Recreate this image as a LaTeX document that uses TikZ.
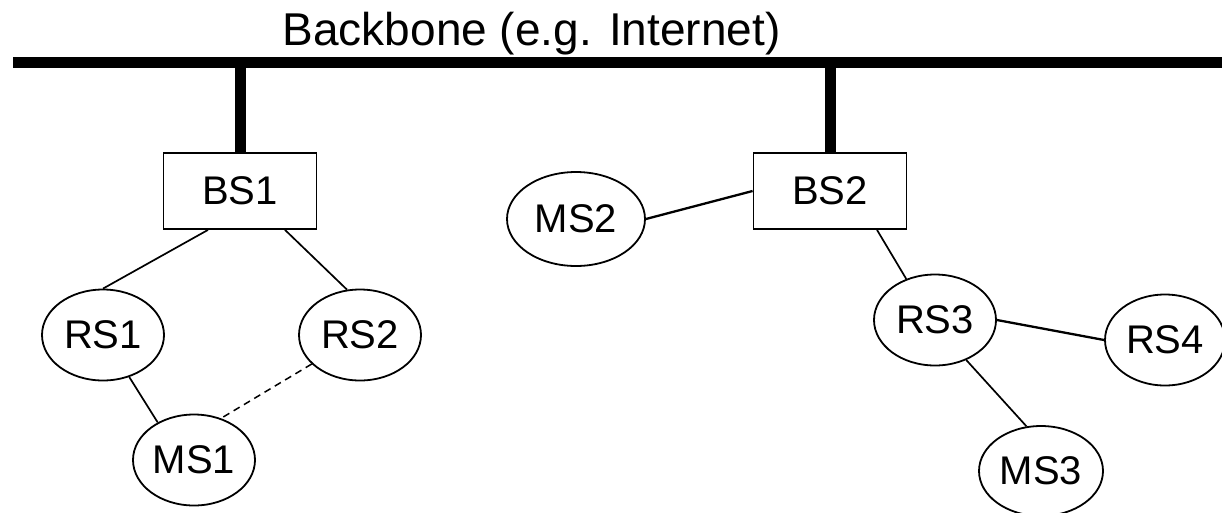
\documentclass[tikz,border=0pt]{standalone}
\usepackage{fontspec}
\setmainfont{Liberation Sans}
\usetikzlibrary{shapes.geometric,calc}

\begin{document}
\begin{tikzpicture}[x=1pt,y=-1pt,
  label font/.style={font=\fontsize{40}{44}\selectfont},
  station/.style={draw, line width=1.8pt, ellipse, inner sep=0pt,
                  minimum width=122pt, minimum height=91pt, label font},
  basebox/.style={draw, line width=1.8pt, rectangle, inner sep=0pt,
                  minimum width=153pt, minimum height=76pt, label font},
  link/.style={line width=1.7pt},
  wlink/.style={line width=2.3pt},
  maybelink/.style={line width=1.5pt, dash pattern=on 7pt off 5pt},
  trunk/.style={line width=11pt}]

  \useasboundingbox (0,0) rectangle (1222,512);
  \clip (0,0) rectangle (1222,512);

  % backbone bus and its caption
  \coordinate (busL) at (13,62.5);
  \coordinate (busR) at (1230,62.5);
  \draw[trunk] (busL) -- (busR);
  \node[anchor=base, inner sep=0pt, font=\fontsize{46}{50}\selectfont]
    (title) at (531.5,45) {Backbone (e.g. Internet)};

  % base stations
  \node[basebox] (BS1) at (240,191) {BS1};
  \node[basebox] (BS2) at (830,191) {BS2};

  % relay and mobile stations
  \node[station] (RS1) at (103,335) {RS1};
  \node[station] (RS2) at (360,335) {RS2};
  \node[station] (MS1) at (194,460) {MS1};
  \node[station, minimum width=138pt, minimum height=94pt] (MS2) at (576,219) {MS2};
  \node[station] (RS3) at (935,320) {RS3};
  \node[station, minimum width=120pt] (RS4) at (1165,340) {RS4};
  \node[station, minimum width=124pt, minimum height=90pt] (MS3) at (1041,471) {MS3};

  % wired drops from the backbone
  \draw[trunk] (BS1.north |- busL) -- (BS1.north);
  \draw[trunk] (BS2.north |- busL) -- (BS2.north);

  % radio links
  \draw[link] ($(BS1.south)+(-32,0)$) -- (RS1.north);
  \draw[link] ($(BS1.south)+(45,0)$) -- (RS2.106);
  \draw[link] (RS1.-58) -- (MS1.134);
  \draw[maybelink] (RS2.211) -- (MS1.57);
  \draw[wlink] (MS2.east) -- (BS2.west);
  \draw[link] ($(BS2.south)+(47,0)$) -- (RS3.125);
  \draw[wlink] (RS3.east) -- (RS4.west);
  \draw[link] (RS3.-52) -- (MS3.108);
\end{tikzpicture}
\end{document}
